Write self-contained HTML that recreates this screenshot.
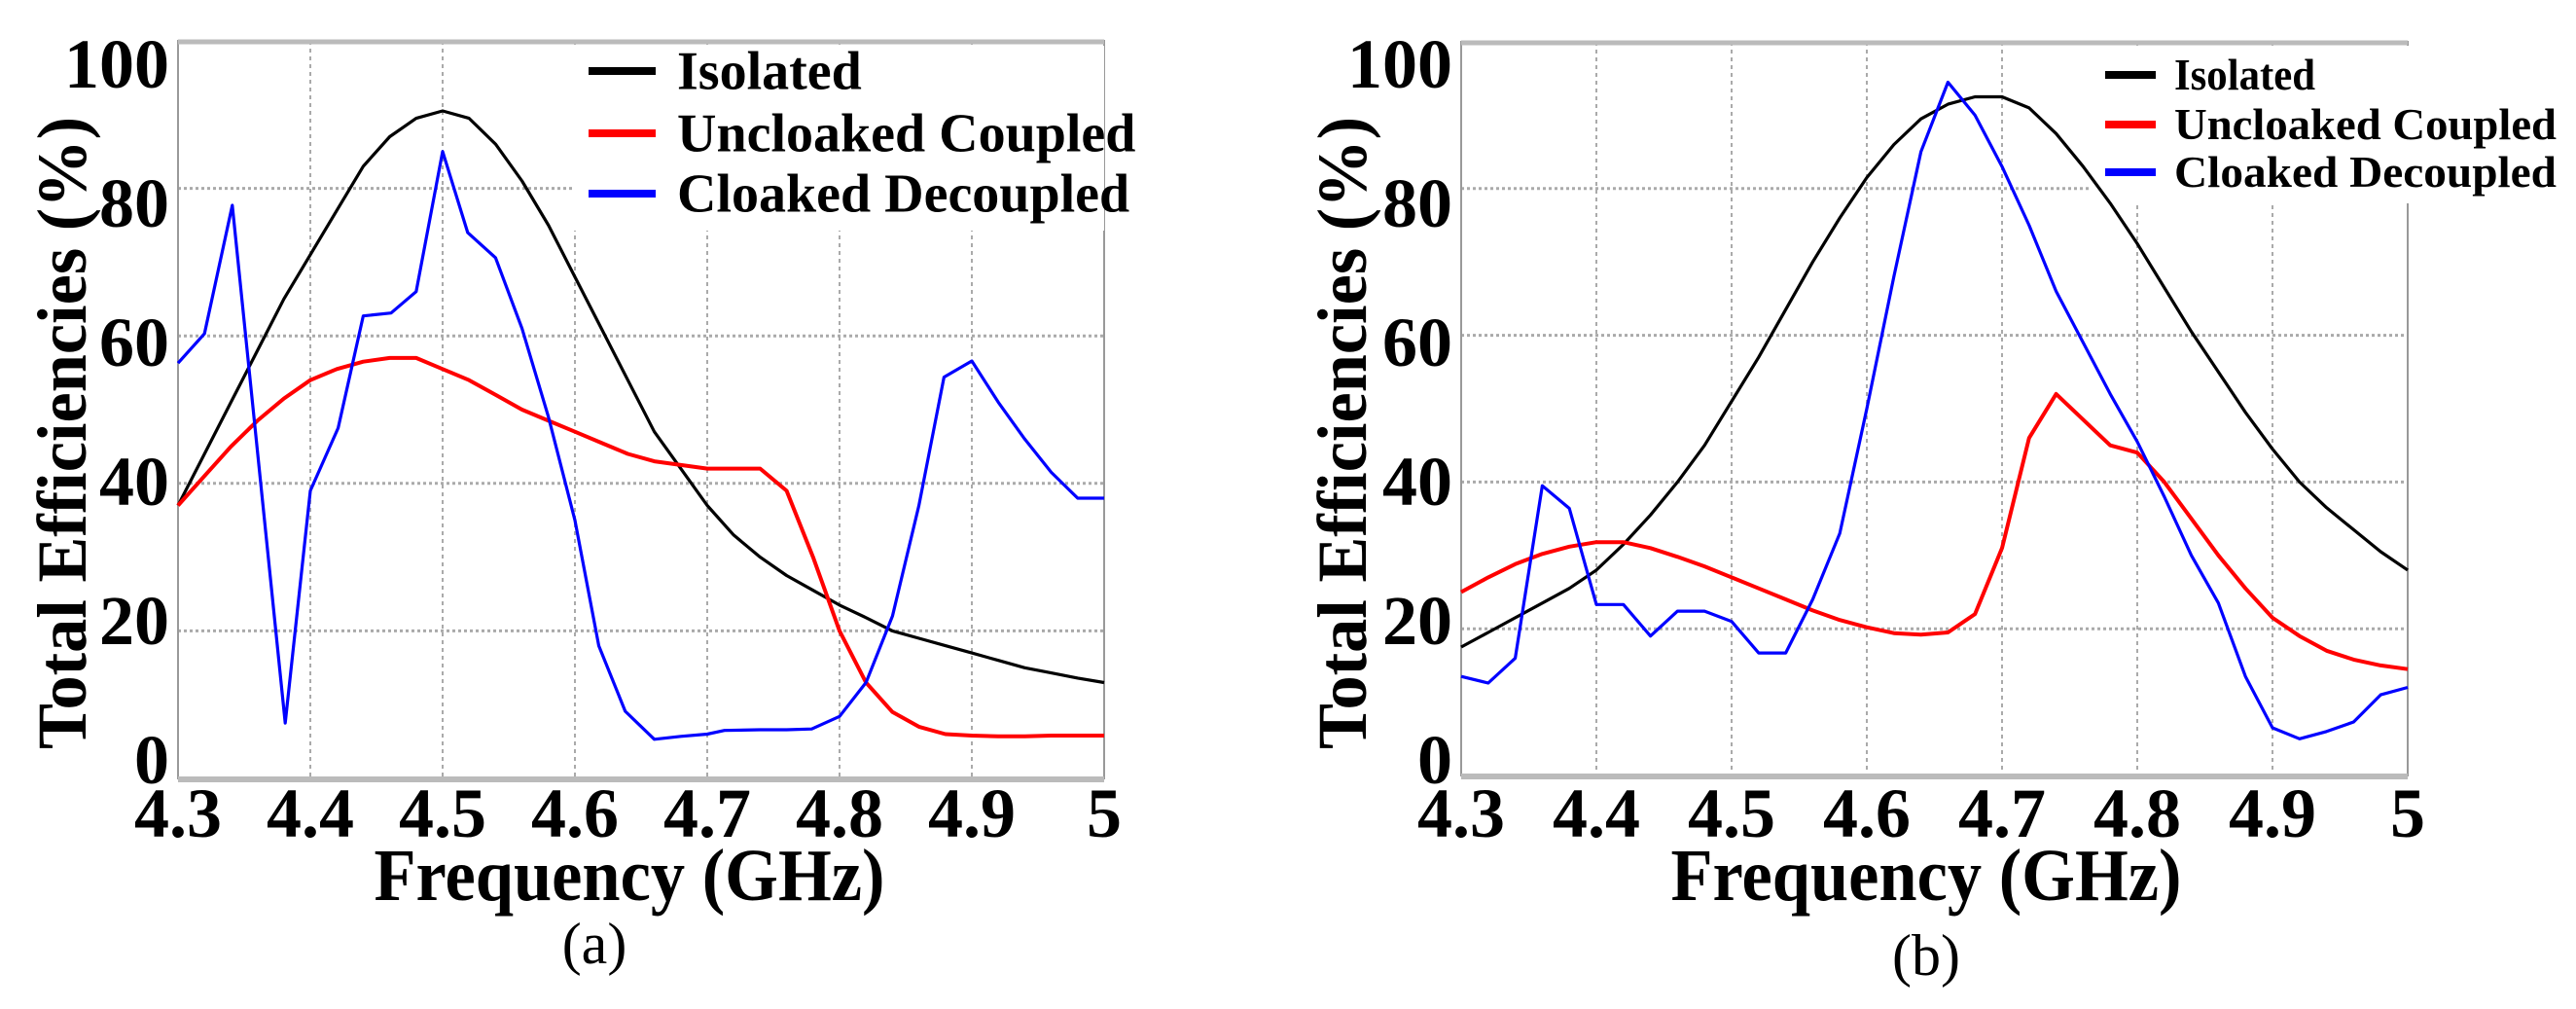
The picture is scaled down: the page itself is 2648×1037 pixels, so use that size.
<!DOCTYPE html>
<html><head><meta charset="utf-8"><style>
html,body{margin:0;padding:0;background:#fff;}
svg{display:block;font-family:"Liberation Serif",serif;}
</style></head><body>
<svg id="fig" width="2648" height="1037" viewBox="0 0 2648 1037" xmlns="http://www.w3.org/2000/svg"></svg>
<script>
const freqs=[4.30,4.32,4.34,4.36,4.38,4.40,4.42,4.44,4.46,4.48,4.50,4.52,4.54,4.56,4.58,4.60,4.62,4.64,4.66,4.68,4.70,4.72,4.74,4.76,4.78,4.80,4.82,4.84,4.86,4.88,4.90,4.92,4.94,4.96,4.98,5.00];
const aIsolated=[37,44,51,58,65,71,77,83,87,89.5,90.5,89.5,86,81,75,68,61,54,47,42,37,33,30,27.5,25.5,23.5,21.8,20,19,18,17,16,15,14.3,13.6,13];
const aUncloaked=[37,41,45,48.5,51.5,54,55.5,56.5,57,57,55.5,54,52,50,48.5,47,45.5,44,43,42.5,42,42,42,39,30,20,13,9,7,6,5.8,5.7,5.7,5.8,5.8,5.8];
const aCloakedF=[4.30,4.32,4.341,4.381,4.40,4.421,4.44,4.461,4.48,4.50,4.519,4.54,4.56,4.58,4.60,4.618,4.638,4.66,4.68,4.70,4.713,4.74,4.76,4.779,4.80,4.82,4.84,4.86,4.879,4.90,4.92,4.94,4.96,4.98,5.00];
const aCloaked=[56.3,60.3,77.7,7.5,39,47.5,62.7,63.1,66,85,74,70.6,61,49,35,18,9.1,5.3,5.7,6,6.5,6.6,6.6,6.7,8.4,13,22,37,54.4,56.6,51,46,41.5,38,38];
const bIsolated=[17.5,19.5,21.5,23.5,25.5,28,31.5,35.5,40,45,51,57,63.5,70,76,81.5,86,89.5,91.5,92.5,92.5,91,87.5,83,78,72.5,66.5,60.5,55,49.5,44.5,40,36.5,33.5,30.5,28];
const bUncloaked=[25,27,28.8,30.2,31.2,31.8,31.8,31,29.8,28.5,27,25.5,24,22.5,21.2,20.2,19.4,19.2,19.5,22,31,46,52,48.5,45,44,40,35,30,25.5,21.5,19,17,15.8,15,14.5];
const bCloaked=[13.5,12.6,16,39.5,36.4,23.3,23.3,19,22.4,22.4,21,16.7,16.7,24,33,50,68,85,94.5,90,83,75,66,59,52,45.5,38,30,23.5,13.5,6.5,5,6,7.3,11,12];
const xTicks=["4.3","4.4","4.5","4.6","4.7","4.8","4.9","5"];
const yTicks=["0","20","40","60","80","100"];
const legendLabels=["Isolated","Uncloaked Coupled","Cloaked Decoupled"];

const NS="http://www.w3.org/2000/svg";
const svg=document.getElementById('fig');
function mk(tag,attrs,parent){const e=document.createElementNS(NS,tag);for(const k in attrs)e.setAttribute(k,attrs[k]);(parent||svg).appendChild(e);return e;}

const panels=[
 {x0:183,x1:1135,y0:800,y1:42,tickX:174,titleX:62,xTitleX:647,capX:611,cap:"(a)",
  lg:{bx:590,by:43,bw:545,bh:190,lx0:605,lx1:674,tx:696,ys:[73,137,199],fs:56,tl:[null,null,null]},
  series:[[freqs,aIsolated,"#000"],[freqs,aUncloaked,"#ff0000"],[aCloakedF,aCloaked,"#0000ff"]],name:"a"},
 {x0:1502,x1:2475,y0:797,y1:43,tickX:1493,titleX:1378,xTitleX:1980,capX:1980,cap:"(b)",
  lg:{bx:2150,by:43,bw:498,bh:162,lx0:2164,lx1:2216,tx:2235,ys:[77,128,177],fs:46,tl:[145,393,393]},
  series:[[freqs,bIsolated,"#000"],[freqs,bUncloaked,"#ff0000"],[freqs,bCloaked,"#0000ff"]],name:"b"}
];
const names=["isolated","uncloaked-coupled","cloaked-decoupled"];

panels.forEach(p=>{
 const g=mk('g',{});
 
 
 const sx=f=>p.x0+(f-4.3)/0.7*(p.x1-p.x0);
 const sy=v=>p.y0+(v/100)*(p.y1-p.y0);
 xTicks.forEach((t,i)=>{
   const f=4.3+i*0.1, x=sx(f);
   if(i>0&&i<xTicks.length-1){
     const l=mk('line',{x1:x,y1:p.y1,x2:x,y2:p.y0,stroke:"#aaa","stroke-width":2,"stroke-dasharray":"4 4"},g);
     
     
   }
   const tx=mk('text',{x:x,y:860,"text-anchor":"middle","font-size":72,"font-weight":"bold",fill:"#000"},g);
   tx.textContent=t;
   
   
 });
 yTicks.forEach((t,i)=>{
   const v=i*20, y=sy(v);
   if(i>0&&i<yTicks.length-1){
     const l=mk('line',{x1:p.x0,y1:y,x2:p.x1,y2:y,stroke:"#aaa","stroke-width":3,"stroke-dasharray":"3 3"},g);
     
     
   }
   const ly=780-i*143;
   const tx=mk('text',{x:p.tickX,y:ly+25,"text-anchor":"end","font-size":72,"font-weight":"bold",fill:"#000"},g);
   tx.textContent=t;
   
   
 });
 const fr=mk('rect',{x:p.x0,y:p.y1,width:p.x1-p.x0,height:p.y0-p.y1,fill:"none",stroke:"#999","stroke-width":2},g);
 
 
 const tb=mk('line',{x1:p.x0,y1:p.y1+1,x2:p.x1,y2:p.y1+1,stroke:"#bbb","stroke-width":5},g);
 
 
 const bb=mk('line',{x1:p.x0,y1:p.y0+1,x2:p.x1,y2:p.y0+1,stroke:"#bbb","stroke-width":6},g);
 
 
 const lb=mk('rect',{x:p.lg.bx,y:p.lg.by+4,width:p.lg.bw,height:p.lg.bh,fill:"#fff"},g);
 
 
 p.series.forEach((s,k)=>{
   const pts=s[0].map((f,i)=>sx(f).toFixed(1)+","+sy(s[1][i]).toFixed(1)).join(" ");
   const pl=mk('polyline',{points:pts,fill:"none",stroke:s[2],"stroke-width":k==1?4:3.2,"stroke-linejoin":"round"},g);
   
   
 });
 legendLabels.forEach((lab,k)=>{
   const y=p.lg.ys[k];
   const ll=mk('line',{x1:p.lg.lx0,y1:y,x2:p.lg.lx1,y2:y,stroke:p.series[k][2],"stroke-width":8},g);
   
   
   const a={x:p.lg.tx,y:y+p.lg.fs*0.33,"font-size":p.lg.fs,"font-weight":"bold",fill:"#000"};
   if(p.lg.tl[k]){a.textLength=p.lg.tl[k];a.lengthAdjust="spacingAndGlyphs";}
   const t=mk('text',a,g);
   t.textContent=lab;
   
   
 });
 const yt=mk('text',{x:0,y:0,transform:`translate(${p.titleX+26},445) rotate(-90)`,"text-anchor":"middle","font-size":72,"font-weight":"bold",fill:"#000",textLength:650,lengthAdjust:"spacingAndGlyphs"},g);
 yt.textContent="Total Efficiencies (%)";
 
 
 const xt=mk('text',{x:p.xTitleX,y:925,"text-anchor":"middle","font-size":76,"font-weight":"bold",fill:"#000",textLength:525,lengthAdjust:"spacingAndGlyphs"},g);
 xt.textContent="Frequency (GHz)";
 
 
 const cp=mk('text',{x:p.capX,y:p.name=="a"?990:1002,"text-anchor":"middle","font-size":60,fill:"#000"},g);
 cp.textContent=p.cap;
 
 
});
</script>
</body></html>
